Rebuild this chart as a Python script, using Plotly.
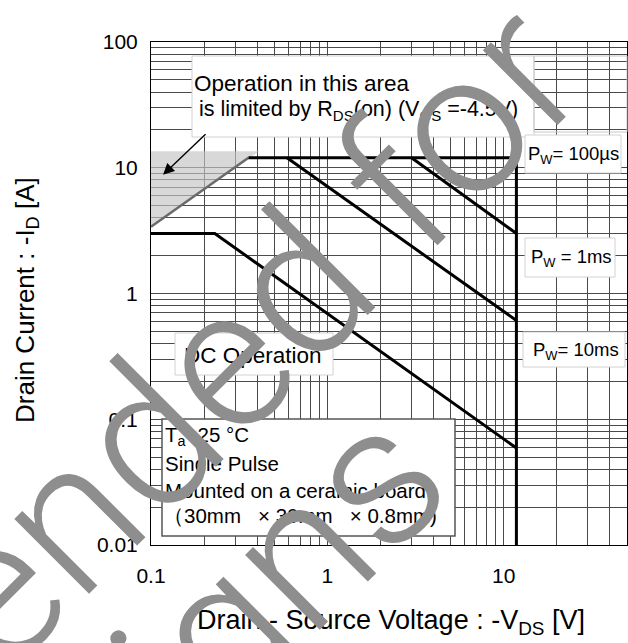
import math
import plotly.graph_objects as go

# ---------------- data ----------------
# R_DS(on) limit line (V, A)
rds_v = [0.1, 0.357]
rds_i = [3.4, 12.0]
# shaded "limited by R_DS(on)" area
shade_v = [0.1, 0.41, 0.1]
shade_i = [3.4, 13.5, 13.5]
# outer envelope: I_D max and V_DS max
env_v = [0.357, 11.8, 11.8]
env_i = [12.0, 12.0, 0.01]
# Pw = 100 us
p100us_v = [3.0, 11.8]
p100us_i = [12.0, 3.0]
# Pw = 1 ms
p1ms_v = [0.59, 11.8]
p1ms_i = [12.0, 0.61]
# DC operation
dc_v = [0.1, 0.23, 11.8]
dc_i = [3.0, 3.0, 0.059]

x_ticks = [0.1, 1, 10]
x_ticktext = ["0.1", "1", "10"]
y_ticks = [0.01, 0.1, 1, 10, 100]
y_ticktext = ["0.01", "0.1", "1", "10", "100"]

# ---------------- layout geometry ----------------
W, H = 628, 643
ML, MR, MT, MB = 151, 1, 42, 98
PW, PH = W - ML - MR, H - MT - MB
FONT = "Liberation Sans, Arial, Helvetica, sans-serif"


def px(x):
    return (x - ML) / PW


def py(y):
    return (H - MB - y) / PH


fig = go.Figure()

fig.add_trace(go.Scatter(x=shade_v, y=shade_i, fill="toself", mode="lines",
                         line=dict(width=0), fillcolor="rgba(195,195,195,0.65)",
                         hoverinfo="skip", showlegend=False))
fig.add_trace(go.Scatter(x=rds_v, y=rds_i, mode="lines",
                         line=dict(color="#6a6a6a", width=2.5), showlegend=False))
for xs, ys in [(env_v, env_i), (p100us_v, p100us_i), (p1ms_v, p1ms_i), (dc_v, dc_i)]:
    fig.add_trace(go.Scatter(x=xs, y=ys, mode="lines",
                             line=dict(color="black", width=3), showlegend=False))

grid = "#4a4a4a"
axis_common = dict(type="log", showline=True, linecolor="black", linewidth=1,
                   mirror=True, showgrid=True, gridcolor=grid, gridwidth=1,
                   ticks="", zeroline=False, automargin=False,
                   tickfont=dict(family=FONT, size=21, color="black"),
                   minor=dict(dtick="D1", showgrid=True, gridcolor=grid, gridwidth=1, ticks=""))

fig.update_xaxes(range=[-1, math.log10(50)], tickmode="array", tickvals=x_ticks,
                 ticktext=x_ticktext, ticklabelstandoff=12, **axis_common)
fig.update_yaxes(range=[-2, 2], tickmode="array", tickvals=y_ticks,
                 ticktext=y_ticktext, ticklabelstandoff=8, **axis_common)

shapes = []
boxes = [
    (192, 56, 534, 137, "white", "#d2d2d2", 1),
    (525, 135, 621, 173, "white", "#d2d2d2", 1),
    (525, 238, 615, 277, "white", "#d2d2d2", 1),
    (523, 332, 625, 367, "white", "#d2d2d2", 1),
    (175, 333, 333, 375, "white", "#d2d2d2", 1),
    (162, 419, 455, 536, "white", "#555555", 1.5),
]
for x0, y0, x1, y1, fill, lc, lw in boxes:
    shapes.append(dict(type="rect", xref="paper", yref="paper", layer="above",
                       x0=px(x0), x1=px(x1), y0=py(y1), y1=py(y0),
                       fillcolor=fill, line=dict(color=lc, width=lw)))
shapes.append(dict(type="rect", xref="paper", yref="paper", layer="above",
                   x0=px(534), x1=px(627), y0=py(132), y1=py(56),
                   fillcolor="rgba(0,0,0,0)", line=dict(color="#c8c8c8", width=1)))

ann = []


def text(x, y, s, size, anchor="left", color="black"):
    ann.append(dict(xref="paper", yref="paper", x=px(x), y=py(y), text=s,
                    showarrow=False, xanchor=anchor, yanchor="middle",
                    font=dict(family=FONT, size=size, color=color)))


text(192, 84, "Operation in this area", 22.5)
text(197, 111, "is limited by R<sub>DS</sub>(on) (V<sub>GS</sub> =-4.5V)", 21.5)
text(573, 155, "P<sub>W</sub>= 100µs", 18.5, "center")
text(571, 258, "P<sub>W</sub> = 1ms", 18.5, "center")
text(576, 351, "P<sub>W</sub>= 10ms", 18.5, "center")
text(253, 355, "DC Operation", 22.5, "center")
nb = "\u00a0"
text(163, 436, "T<sub>a</sub>=25 °C", 20.5)
text(163, 463, "Single Pulse", 20.5)
text(163, 490, "Mounted on a ceramic board.", 20.5)
text(161, 515, "（30mm" + nb * 3 + "×" + nb + "30mm" + nb * 3 + "×" + nb + "0.8mm)", 20.5)

# axis titles
text(391, 622, "Drain - Source Voltage : -V<sub>DS</sub> [V]", 27, "center")
ann.append(dict(xref="paper", yref="paper", x=px(26), y=py(300), showarrow=False,
                text="Drain Current : -I<sub>D</sub> [A]", textangle=-90,
                xanchor="center", yanchor="middle",
                font=dict(family=FONT, size=26, color="black")))

# arrow pointing into the shaded area
ann.append(dict(x=math.log10(0.117), y=math.log10(8.8), xref="x", yref="y",
                text="", showarrow=True, arrowhead=2, arrowsize=1.6, arrowwidth=1.4,
                arrowcolor="black", ax=44, ay=-42))

# watermark (two lines, rotated 45 deg, light weight)
S = 200
for s_txt, cx, cy in [("Not recommended for", -140, 725), ("new designs", 22, 830)]:
    ann.append(dict(xref="paper", yref="paper", x=px(cx), y=py(cy), text=s_txt,
                    showarrow=False, textangle=-45, xanchor="center", yanchor="middle",
                    font=dict(family="Roboto", weight=300, size=S, color="#8e8e8e")))

fig.update_layout(width=W, height=H, margin=dict(l=ML, r=MR, t=MT, b=MB),
                  paper_bgcolor="white", plot_bgcolor="white",
                  shapes=shapes, annotations=ann, showlegend=False)

fig.write_html("out.html", config={"displayModeBar": False},
               post_script="document.body.style.margin='0px';document.body.style.overflow='hidden';")
